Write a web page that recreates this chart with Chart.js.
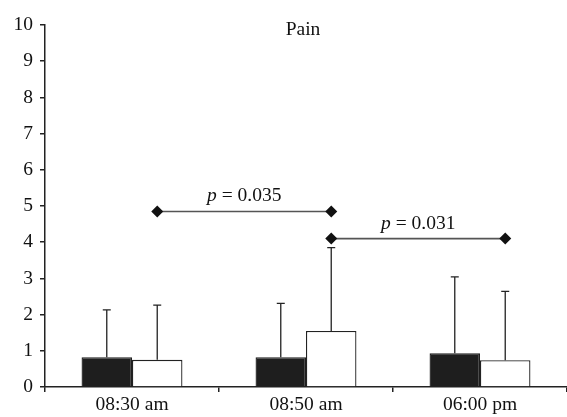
<!DOCTYPE html>
<html>
<head>
<meta charset="utf-8">
<script src="https://cdn.jsdelivr.net/npm/chart.js@4/dist/chart.umd.min.js"></script>
<style>
html, body { margin: 0; padding: 0; background: #fff; }
#wrap { width: 567px; height: 417px; }
</style>
</head>
<body>
<div id="wrap"><canvas id="myChart"></canvas></div>
<script>
// values
var categories = ['08:30 am', '08:50 am', '06:00 pm'];
var yTicks = [0, 1, 2, 3, 4, 5, 6, 7, 8, 9, 10];
var blackMeans = [0.82, 0.82, 0.93];
var whiteMeans = [0.75, 1.55, 0.74];
var blackSD = [1.31, 1.49, 2.11];
var whiteSD = [1.51, 2.30, 1.90];
// significance brackets: from category, to category, height, p value
var pairFrom = [0, 1];
var pairTo = [1, 2];
var pairY = [4.85, 4.1];
var pairP = ['0.035', '0.031'];

var serif = '"Liberation Serif", "DejaVu Serif", serif';
var fontSize = 19.5;

var errorBars = {
    id: 'errorBars',
    afterDatasetsDraw: function (chart) {
        var ctx = chart.ctx;
        var yScale = chart.scales.y;
        var sds = [blackSD, whiteSD];
        var means = [blackMeans, whiteMeans];
        ctx.save();
        ctx.strokeStyle = '#222';
        ctx.lineWidth = 1.3;
        for (var d = 0; d < 2; d++) {
            var meta = chart.getDatasetMeta(d);
            meta.data.forEach(function (bar, i) {
                var top = yScale.getPixelForValue(means[d][i] + sds[d][i]);
                ctx.beginPath();
                ctx.moveTo(bar.x, bar.y);
                ctx.lineTo(bar.x, top);
                ctx.moveTo(bar.x - 4, top);
                ctx.lineTo(bar.x + 4, top);
                ctx.stroke();
            });
        }
        ctx.restore();
    }
};

// p-value brackets, anchored on the white bars
var brackets = {
    id: 'brackets',
    afterDatasetsDraw: function (chart) {
        var ctx = chart.ctx;
        var ys = chart.scales.y;
        var whiteBars = chart.getDatasetMeta(1).data;
        ctx.save();
        for (var k = 0; k < pairP.length; k++) {
            var x1 = whiteBars[pairFrom[k]].x;
            var x2 = whiteBars[pairTo[k]].x;
            var y = ys.getPixelForValue(pairY[k]);
            ctx.strokeStyle = '#555';
            ctx.lineWidth = 1.6;
            ctx.beginPath();
            ctx.moveTo(x1, y);
            ctx.lineTo(x2, y);
            ctx.stroke();
            ctx.fillStyle = '#111';
            [x1, x2].forEach(function (x) {
                ctx.beginPath();
                ctx.moveTo(x, y - 6);
                ctx.lineTo(x + 6, y);
                ctx.lineTo(x, y + 6);
                ctx.lineTo(x - 6, y);
                ctx.closePath();
                ctx.fill();
            });

            var ty = y - 10;
            ctx.font = 'italic ' + fontSize + 'px ' + serif;
            var w1 = ctx.measureText('p').width;
            ctx.font = fontSize + 'px ' + serif;
            var rest = ' = ' + pairP[k];
            var w2 = ctx.measureText(rest).width;
            var sx = (x1 + x2) / 2 - (w1 + w2) / 2;
            ctx.textAlign = 'left';
            ctx.textBaseline = 'alphabetic';
            ctx.font = 'italic ' + fontSize + 'px ' + serif;
            ctx.fillText('p', sx, ty);
            ctx.font = fontSize + 'px ' + serif;
            ctx.fillText(rest, sx + w1, ty);
        }
        ctx.restore();
    }
};

var titleText = {
    id: 'titleText',
    afterDraw: function (chart) {
        var ctx = chart.ctx;
        var area = chart.chartArea;
        ctx.save();
        ctx.fillStyle = '#111';
        ctx.textBaseline = 'middle';
        ctx.textAlign = 'center';
        ctx.font = fontSize + 'px ' + serif;
        ctx.fillText('Pain', (area.left + area.right) / 2 - 3, area.top + 5);
        ctx.restore();
    }
};

var ctx = document.getElementById('myChart').getContext('2d');
var myChart = new Chart(ctx, {
    type: 'bar',
    data: {
        labels: categories,
        datasets: [{
            label: 'black',
            data: blackMeans,
            backgroundColor: '#1e1e1e',
            borderColor: '#1e1e1e',
            borderWidth: 1.3,
            categoryPercentage: 0.58,
            barPercentage: 1.0
        }, {
            label: 'white',
            data: whiteMeans,
            backgroundColor: '#ffffff',
            borderColor: '#222',
            borderWidth: 1.3,
            categoryPercentage: 0.58,
            barPercentage: 1.0
        }]
    },
    options: {
        responsive: true,
        maintainAspectRatio: false,
        animation: false,
        layout: { padding: { top: 25, right: 0, left: 0, bottom: 0 } },
        plugins: {
            legend: { display: false },
            tooltip: { enabled: false },
            title: { display: false }
        },
        scales: {
            x: {
                type: 'category',
                offset: true,
                border: { color: '#222', width: 1.5 },
                grid: { offset: true, drawOnChartArea: false, tickLength: 5, color: '#222', lineWidth: 1.5 },
                ticks: { color: '#111', font: { family: serif, size: fontSize }, padding: 1, maxRotation: 0 },
                afterFit: function (scale) { scale.height = 30; }
            },
            y: {
                min: 0,
                max: 10,
                afterBuildTicks: function (scale) {
                    scale.ticks = yTicks.map(function (v) { return { value: v }; });
                },
                border: { color: '#222', width: 1.5 },
                grid: { drawOnChartArea: false, tickLength: 5, color: '#222', lineWidth: 1.5 },
                ticks: { color: '#111', font: { family: serif, size: fontSize }, padding: 7 },
                afterFit: function (scale) { scale.width = 45; }
            }
        }
    },
    plugins: [errorBars, brackets, titleText]
});
</script>
</body>
</html>
